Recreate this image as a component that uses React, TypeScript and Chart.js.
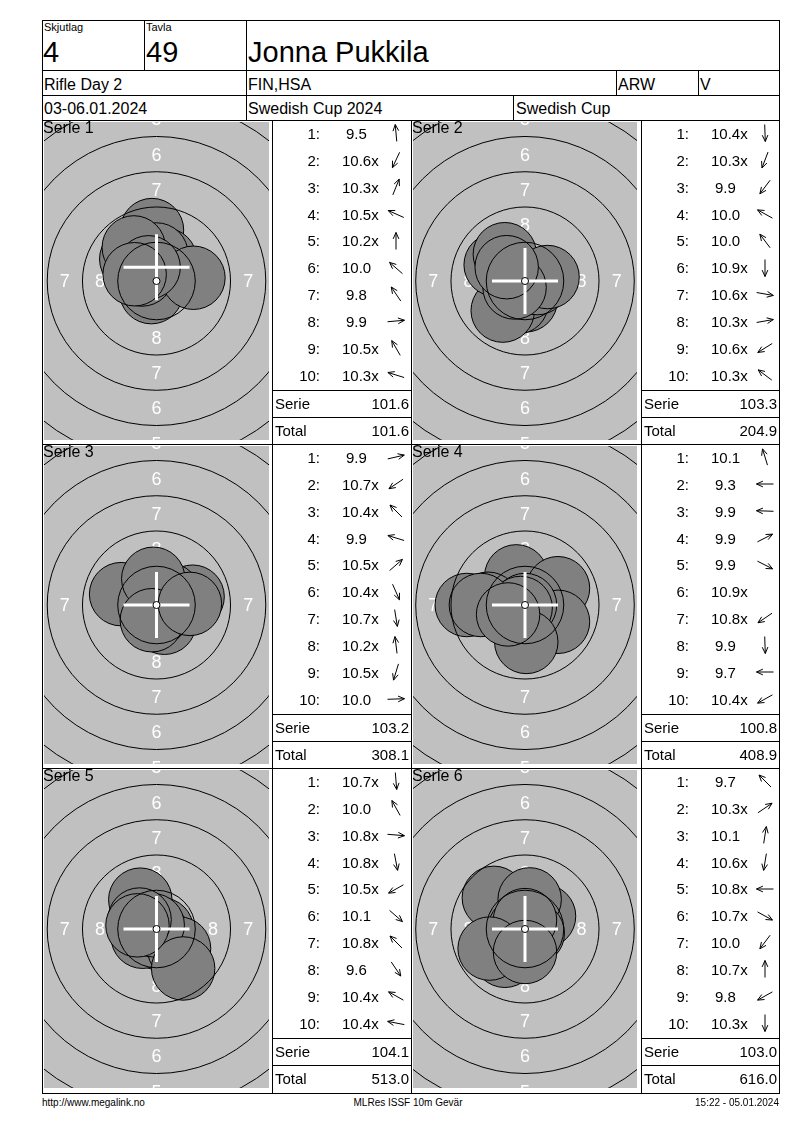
import React, { useEffect, useRef } from "react";
import { Chart, registerables } from "chart.js";

Chart.register(...registerables);

const FONT = "'Liberation Sans', Arial, Helvetica, sans-serif";

// ---------- header data ----------
const squadLabel = "Skjutlag";
const squadValue = "4";
const laneLabel = "Tavla";
const laneValue = "49";
const shooterName = "Jonna Pukkila";
const eventName = "Rifle Day 2";
const clubName = "FIN,HSA";
const className = "ARW";
const classSuffix = "V";
const eventDates = "03-06.01.2024";
const competitionName = "Swedish Cup 2024";
const cupName = "Swedish Cup";
const footerLeft = "http://www.megalink.no";
const footerCenter = "MLRes ISSF 10m Gevär";
const footerRight = "15:22 - 05.01.2024";

// ---------- series data (scores; shot positions in mm from centre, y up) ----------
const serieLabels = ["Serie 1", "Serie 2", "Serie 3", "Serie 4", "Serie 5", "Serie 6"];

const scores1 = [9.5, 10.6, 10.3, 10.5, 10.2, 10.0, 9.8, 9.9, 10.5, 10.3];
const shotX1 = [-0.32, -0.37, 0.61, -1.03, 0.0, -1.79, -1.61, 2.62, -0.56, -1.55];
const shotY1 = [3.61, -0.79, 1.51, 0.46, 1.88, 1.56, 2.38, 0.23, 0.97, 0.48];

const scores2 = [10.4, 10.3, 9.9, 10.0, 10.0, 10.9, 10.6, 10.3, 10.6, 10.3];
const shotX2 = [0.05, -0.58, -1.58, -2.08, -1.43, 0.0, 0.86, 1.6, -0.74, -1.3];
const shotY2 = [-1.37, -1.52, -2.1, 1.15, 1.9, -0.13, -0.15, 0.28, -0.46, 0.98];

const scores3 = [9.9, 10.7, 10.4, 9.9, 10.5, 10.4, 10.7, 10.2, 10.5, 10.0];
const shotX3 = [2.56, -0.52, -0.97, -2.51, 0.85, 0.56, 0.1, -0.23, -0.33, 2.37];
const shotY3 = [0.59, -0.35, 0.97, 0.77, 0.74, -1.26, -0.62, 1.86, -1.08, 0.08];

const scores4 = [10.1, 9.3, 9.9, 9.9, 9.9, 10.9, 10.8, 9.9, 9.7, 10.4];
const shotX4 = [-0.62, -4.13, -2.62, 2.34, 2.34, 0.0, -0.31, 0.09, -3.13, -1.2];
const shotY4 = [2.03, 0.0, 0.09, 1.19, -1.19, 0.0, -0.21, -2.62, 0.0, -0.67];

const scores5 = [10.7, 10.0, 10.8, 10.8, 10.5, 10.1, 10.8, 9.6, 10.4, 10.4];
const shotX5 = [0.05, -1.15, 0.37, 0.07, -0.98, 1.6, -0.27, 1.89, -1.2, -1.35];
const shotY5 = [-0.62, 2.08, -0.03, -0.37, -0.55, -1.39, 0.27, -2.8, 0.67, 0.26];

const scores6 = [9.7, 10.3, 10.1, 10.6, 10.8, 10.7, 10.0, 10.7, 9.8, 10.3];
const shotX6 = [-2.21, 1.35, 0.33, -0.14, -0.38, 0.55, -1.43, 0.0, -2.51, 0.0];
const shotY6 = [2.21, 0.91, 2.1, -0.86, 0.0, -0.3, -1.9, 0.63, -1.39, -1.63];

// white cross position per series (mm)
const crossX = [0, 0, 0, 0, 0, 0];
const crossY = [0.98, 0, 0, 0, 0, 0];

// target geometry (10m air rifle, mm)
const ringRadiiMm = [2.75, 5.25, 7.75, 10.25, 12.75, 15.25];
const ringLabelValues = ["8", "7", "6", "5"];
const ringLabelOffsetsMm = [4, 6.5, 9, 11.5];
const tenRingMm = 0.25;
const pelletRadiusMm = 2.25;

const allScores = [scores1, scores2, scores3, scores4, scores5, scores6];
const allX = [shotX1, shotX2, shotX3, shotX4, shotX5, shotX6];
const allY = [shotY1, shotY2, shotY3, shotY4, shotY5, shotY6];

// ---------- layout ----------
const PX_PER_MM = 14.1;
const L0 = 42;
const R0 = 779;
const PANEL_TOPS = [120, 444, 768];
const PANEL_H = 324;
const COLS = [
  { tLeft: 44, tWidth: 225, lLeft: 272, lRight: 411 },
  { tLeft: 413, tWidth: 224, lLeft: 641, lRight: 779 },
];

function Txt(props: {
  x: number;
  y: number;
  size: number;
  align?: "left" | "right" | "center";
  children: React.ReactNode;
}) {
  const { x, y, size, align = "left", children } = props;
  const tr =
    align === "right" ? "translateX(-100%)" : align === "center" ? "translateX(-50%)" : undefined;
  return (
    <div
      style={{
        position: "absolute",
        left: x,
        top: y - 0.8465 * size,
        fontSize: size,
        lineHeight: `${size}px`,
        fontFamily: FONT,
        whiteSpace: "pre",
        color: "#000",
        transform: tr,
      }}
    >
      {children}
    </div>
  );
}

function HLine({ x1, x2, y }: { x1: number; x2: number; y: number }) {
  return <div style={{ position: "absolute", left: x1, top: y, width: x2 - x1 + 1, height: 1, background: "#000" }} />;
}
function VLine({ x, y1, y2 }: { x: number; y1: number; y2: number }) {
  return <div style={{ position: "absolute", left: x, top: y1, width: 1, height: y2 - y1 + 1, background: "#000" }} />;
}

function makeTargetPlugin(cx: number, cy: number) {
  return {
    id: "targetFace",
    beforeDatasetsDraw(chart: any) {
      const { ctx, chartArea: a, scales } = chart;
      const xs = scales.x;
      const ys = scales.y;
      ctx.save();
      ctx.fillStyle = "#c0c0c0";
      ctx.fillRect(a.left, a.top, a.right - a.left, a.bottom - a.top);
      ctx.beginPath();
      ctx.rect(a.left, a.top, a.right - a.left, a.bottom - a.top);
      ctx.clip();
      ctx.fillStyle = "#ffffff";
      ctx.font = `18px ${FONT}`;
      ctx.textAlign = "center";
      ctx.textBaseline = "alphabetic";
      ringLabelValues.forEach((lab, i) => {
        const d = ringLabelOffsetsMm[i];
        const spots = [
          [0, d],
          [0, -d],
          [d, 0],
          [-d, 0],
        ];
        spots.forEach(([mx, my]) => {
          ctx.fillText(lab, xs.getPixelForValue(mx), ys.getPixelForValue(my) + 6.4);
        });
      });
      ctx.restore();
    },
    afterDatasetsDraw(chart: any) {
      const { ctx, chartArea: a, scales } = chart;
      const xs = scales.x;
      const ys = scales.y;
      const px = (mm: number) => Math.abs(xs.getPixelForValue(mm) - xs.getPixelForValue(0));
      const ox = xs.getPixelForValue(0);
      const oy = ys.getPixelForValue(0);
      ctx.save();
      ctx.beginPath();
      ctx.rect(a.left, a.top, a.right - a.left, a.bottom - a.top);
      ctx.clip();
      ctx.strokeStyle = "#000";
      ctx.lineWidth = 1;
      ringRadiiMm.forEach((r) => {
        ctx.beginPath();
        ctx.arc(ox, oy, px(r), 0, Math.PI * 2);
        ctx.stroke();
      });
      // white cross
      const mx = xs.getPixelForValue(cx);
      const my = ys.getPixelForValue(cy);
      ctx.strokeStyle = "#ffffff";
      ctx.lineWidth = 3;
      ctx.beginPath();
      ctx.moveTo(mx - 33, my);
      ctx.lineTo(mx + 33, my);
      ctx.moveTo(mx, my - 33);
      ctx.lineTo(mx, my + 33);
      ctx.stroke();
      // ten ring
      ctx.beginPath();
      ctx.arc(ox, oy, px(tenRingMm), 0, Math.PI * 2);
      ctx.fillStyle = "#ffffff";
      ctx.fill();
      ctx.strokeStyle = "#000";
      ctx.lineWidth = 1;
      ctx.stroke();
      ctx.restore();
    },
  };
}

function Target(props: {
  left: number;
  top: number;
  width: number;
  height: number;
  xs: number[];
  ys: number[];
  cx: number;
  cy: number;
}) {
  const { left, top, width, height, xs, ys, cx, cy } = props;
  const ref = useRef<HTMLCanvasElement | null>(null);
  useEffect(() => {
    if (!ref.current) return;
    const halfX = width / 2 / PX_PER_MM;
    const halfY = height / 2 / PX_PER_MM;
    const shotPx = pelletRadiusMm * PX_PER_MM;
    const chart = new Chart(ref.current, {
      type: "scatter",
      data: {
        datasets: [
          {
            data: xs.map((x, i) => ({ x, y: ys[i] })),
            showLine: false,
            pointBackgroundColor: "#808080",
            pointBorderColor: "#000000",
            pointBorderWidth: 1,
            pointRadius: shotPx,
            pointHoverRadius: shotPx,
            pointHoverBorderWidth: 1,
            clip: 0,
          } as any,
        ],
      },
      options: {
        responsive: false,
        animation: false,
        events: [],
        layout: { padding: 0, autoPadding: false },
        scales: {
          x: { type: "linear", min: -halfX, max: halfX, display: false },
          y: { type: "linear", min: -halfY, max: halfY, display: false },
        },
        plugins: { legend: { display: false }, tooltip: { enabled: false } },
      } as any,
      plugins: [makeTargetPlugin(cx, cy)],
    });
    return () => chart.destroy();
  }, []);
  return (
    <canvas
      ref={ref}
      width={width}
      height={height}
      style={{ position: "absolute", left, top, width, height }}
    />
  );
}

function Arrow({ cx, cy, dx, dy }: { cx: number; cy: number; dx: number; dy: number }) {
  if (dx === 0 && dy === 0) return null;
  const ang = Math.atan2(-dy, dx);
  const len = 8.5;
  const ux = Math.cos(ang);
  const uy = Math.sin(ang);
  const x1 = 12 - ux * len;
  const y1 = 12 - uy * len;
  const x2 = 12 + ux * len;
  const y2 = 12 + uy * len;
  const h = 7;
  const a1 = ang + Math.PI - 0.42;
  const a2 = ang + Math.PI + 0.42;
  const d = `M${x1},${y1} L${x2},${y2} M${x2 + Math.cos(a1) * h},${y2 + Math.sin(a1) * h} L${x2},${y2} L${
    x2 + Math.cos(a2) * h
  },${y2 + Math.sin(a2) * h}`;
  return (
    <svg
      width={24}
      height={24}
      style={{ position: "absolute", left: cx - 12, top: cy - 12, overflow: "visible" }}
    >
      <path d={d} stroke="#000" strokeWidth={1} fill="none" />
    </svg>
  );
}

function ScoreList(props: {
  left: number;
  right: number;
  top: number;
  scores: number[];
  xs: number[];
  ys: number[];
  serieSum: number;
  total: number;
}) {
  const { left, right, top, scores, xs, ys, serieSum, total } = props;
  const size = 15;
  const off = 0.358 * size;
  return (
    <>
      {scores.map((s, i) => {
        const yc = top + 13.3 + i * 26.85;
        const label = s.toFixed(1) + (s >= 10.2 ? "x" : "");
        return (
          <React.Fragment key={i}>
            <Txt x={left + 48} y={yc + off} size={size} align="right">
              {`${i + 1}:`}
            </Txt>
            <Txt x={left + 70 + (s < 10 ? 4 : 0)} y={yc + off} size={size}>
              {label}
            </Txt>
            <Arrow cx={left + 124} cy={yc} dx={xs[i]} dy={ys[i]} />
          </React.Fragment>
        );
      })}
      <HLine x1={left} x2={right} y={top + 270} />
      <HLine x1={left} x2={right} y={top + 297} />
      <Txt x={left + 3} y={top + 283.5 + off} size={size}>
        Serie
      </Txt>
      <Txt x={right - 2} y={top + 283.5 + off} size={size} align="right">
        {serieSum.toFixed(1)}
      </Txt>
      <Txt x={left + 3} y={top + 310 + off} size={size}>
        Total
      </Txt>
      <Txt x={right - 2} y={top + 310 + off} size={size} align="right">
        {total.toFixed(1)}
      </Txt>
    </>
  );
}

export default function App() {
  const sums = allScores.map((arr) => arr.reduce((a, b) => a + b, 0));
  const totals: number[] = [];
  sums.forEach((s, i) => totals.push((i ? totals[i - 1] : 0) + s));

  const panels = allScores.map((scores, i) => {
    const row = Math.floor(i / 2);
    const col = i % 2;
    const top = PANEL_TOPS[row];
    const c = COLS[col];
    return (
      <React.Fragment key={i}>
        <Target
          left={c.tLeft}
          top={top + 2}
          width={c.tWidth}
          height={318}
          xs={allX[i]}
          ys={allY[i]}
          cx={crossX[i]}
          cy={crossY[i]}
        />
        <Txt x={col === 0 ? 43 : 412} y={top + 14} size={16}>
          {serieLabels[i]}
        </Txt>
        <ScoreList
          left={c.lLeft}
          right={c.lRight}
          top={top}
          scores={scores}
          xs={allX[i]}
          ys={allY[i]}
          serieSum={sums[i]}
          total={totals[i]}
        />
      </React.Fragment>
    );
  });

  const bottom = PANEL_TOPS[2] + PANEL_H + 1;

  return (
    <div style={{ position: "relative", width: 800, height: 1130, background: "#fff", overflow: "hidden" }}>
      <style>{`body{margin:0;}`}</style>
      {/* header grid */}
      <HLine x1={L0} x2={R0} y={20} />
      <HLine x1={L0} x2={R0} y={70} />
      <HLine x1={L0} x2={R0} y={95} />
      <HLine x1={L0} x2={R0} y={120} />
      <VLine x={L0} y1={20} y2={bottom} />
      <VLine x={R0} y1={20} y2={bottom} />
      <VLine x={144} y1={20} y2={70} />
      <VLine x={246} y1={20} y2={120} />
      <VLine x={616} y1={70} y2={95} />
      <VLine x={698} y1={70} y2={95} />
      <VLine x={513} y1={95} y2={120} />

      <Txt x={44} y={31} size={11}>{squadLabel}</Txt>
      <Txt x={146} y={31} size={11}>{laneLabel}</Txt>
      <Txt x={43} y={63} size={29}>{squadValue}</Txt>
      <Txt x={146} y={63} size={29}>{laneValue}</Txt>
      <Txt x={248} y={63} size={29}>{shooterName}</Txt>

      <Txt x={44} y={91} size={16}>{eventName}</Txt>
      <Txt x={248} y={91} size={16}>{clubName}</Txt>
      <Txt x={618} y={91} size={16}>{className}</Txt>
      <Txt x={700} y={91} size={16}>{classSuffix}</Txt>

      <Txt x={44} y={115} size={16}>{eventDates}</Txt>
      <Txt x={248} y={115} size={16}>{competitionName}</Txt>
      <Txt x={516} y={115} size={16}>{cupName}</Txt>

      {/* panel grid */}
      <HLine x1={L0} x2={R0} y={PANEL_TOPS[1]} />
      <HLine x1={L0} x2={R0} y={PANEL_TOPS[2]} />
      <HLine x1={L0} x2={R0} y={bottom} />
      <VLine x={272} y1={120} y2={bottom} />
      <VLine x={411} y1={120} y2={bottom} />
      <VLine x={641} y1={120} y2={bottom} />

      {panels}

      <Txt x={42} y={1106} size={10}>{footerLeft}</Txt>
      <Txt x={408} y={1106} size={10} align="center">{footerCenter}</Txt>
      <Txt x={779} y={1106} size={10} align="right">{footerRight}</Txt>
    </div>
  );
}
